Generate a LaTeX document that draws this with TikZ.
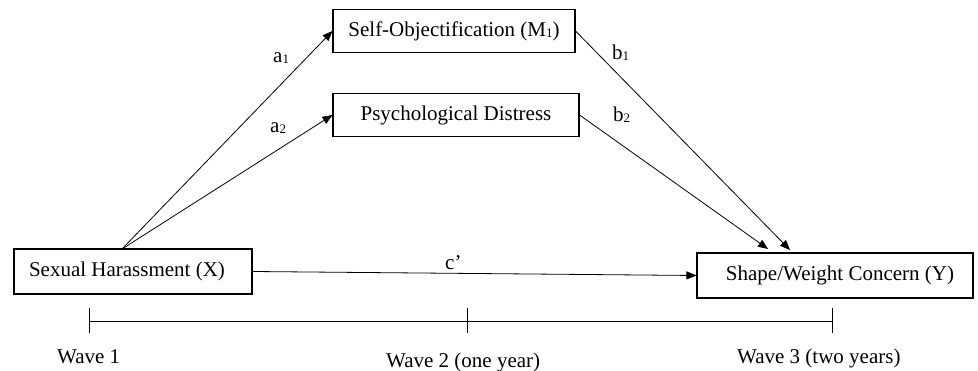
\documentclass[tikz,border=0pt]{standalone}
\usepackage{fontspec}
\setmainfont{Liberation Serif}
\usetikzlibrary{arrows.meta}
\newcommand{\sbs}[1]{\raisebox{-1pt}{\fontsize{13}{13}\selectfont #1}}
\begin{document}
\begin{tikzpicture}[x=1pt,y=-1pt,
  every node/.style={font=\fontsize{21}{24}\selectfont, inner sep=0pt},
  varbox/.style={draw, line width=1.1pt, minimum height=43pt},
  path/.style={draw, line width=0.8pt, -{Triangle[length=10pt,width=8pt]}},
  lbl/.style={anchor=base west},
  tl/.style={draw, line width=0.9pt}]
\useasboundingbox (0,0) rectangle (978,371);
\fill[white] (0,0) rectangle (978,371);
% boxes
\node[varbox, minimum width=242pt] (top) at (454,31) {Self-Objectification (M\sbs{1})};
\node[varbox, minimum width=246pt] (mid) at (456,115) {Psychological Distress};
\node[varbox, minimum width=238pt, minimum height=45pt] (X) at (133,271.5) {\hspace*{-12pt}Sexual Harassment (X)};
\node[varbox, minimum width=276pt, minimum height=45pt] (Y) at (835,275.5) {\hspace*{10pt}Shape/Weight Concern (Y)};
% connector ends
\coordinate (xs) at (122,249);
\coordinate (y1) at (790,250);
\coordinate (y2) at (768,249);
% paths
\draw[path] (xs) -- (top.west);
\draw[path] (xs) -- (mid.west);
\draw[path] (top.east) -- (y1);
\draw[path] (mid.east) -- (y2);
\draw[path] (X.east) -- (Y.west);
% labels
\node[lbl] (la1) at (273,63) {a\sbs{1}};
\node[lbl] (la2) at (270,133) {a\sbs{2}};
\node[lbl] (lb1) at (612,60) {b\sbs{1}};
\node[lbl] (lb2) at (613,122) {b\sbs{2}};
\node[lbl] (lc) at (445,270) {c’};
% timeline
\coordinate (t1) at (89,321);
\coordinate (t2) at (467,321);
\coordinate (t3) at (832,321);
\draw[tl] (t1) -- (t3);
\draw[tl] ([yshift=-12pt]t1) -- ([yshift=13pt]t1);
\draw[tl] ([yshift=-12pt]t2) -- ([yshift=13pt]t2);
\draw[tl] ([yshift=-12pt]t3) -- ([yshift=13pt]t3);
\node[lbl] (w1) at (57,364) {Wave 1};
\node[lbl] (w2) at (386,368) {Wave 2 (one year)};
\node[lbl] (w3) at (737,364) {Wave 3 (two years)};
\end{tikzpicture}
\end{document}
